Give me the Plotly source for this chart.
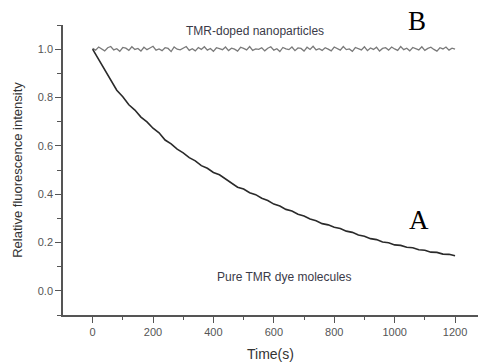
import plotly.graph_objects as go

# --- data ------------------------------------------------------------------
# A: pure TMR dye molecules (photobleaching decay), sampled every 20 s
time_a = list(range(0, 1201, 20))
pure_dye = [
    1.000, 0.957, 0.913, 0.872, 0.830, 0.803, 0.770, 0.748, 0.719, 0.699,
    0.673, 0.654, 0.624, 0.608, 0.586, 0.571, 0.551, 0.538, 0.518, 0.507,
    0.490, 0.480, 0.463, 0.447, 0.429, 0.421, 0.406, 0.398, 0.383, 0.374,
    0.359, 0.351, 0.337, 0.330, 0.317, 0.310, 0.297, 0.290, 0.278, 0.273,
    0.263, 0.258, 0.247, 0.242, 0.231, 0.226, 0.216, 0.212, 0.202, 0.199,
    0.190, 0.188, 0.180, 0.178, 0.170, 0.168, 0.160, 0.159, 0.152, 0.151,
    0.145,
]

# B: TMR-doped nanoparticles (stable), sampled every 10 s
time_b = list(range(0, 1201, 10))
nanoparticles = [
    1.003, 0.996, 1.009, 1.001, 0.993, 1.006, 1.011, 0.997, 1.002, 0.991,
    1.007, 1.004, 0.995, 1.010, 0.999, 1.003, 0.992, 1.008, 0.998, 1.005,
    1.012, 0.996, 1.001, 0.994, 1.006, 1.003, 0.990, 1.009, 1.000, 0.997,
    1.004, 1.011, 0.995, 1.002, 0.993, 1.007, 0.999, 1.010, 0.996, 1.003,
    0.991, 1.006, 1.002, 0.998, 1.009, 0.994, 1.004, 1.000, 0.992, 1.008,
    1.003, 0.997, 1.011, 0.995, 1.001, 0.999, 1.006, 0.993, 1.004, 1.010,
    0.996, 1.002, 0.990, 1.007, 1.001, 0.998, 1.009, 0.994, 1.005, 1.003,
    0.992, 1.008, 0.999, 1.012, 0.997, 1.002, 0.995, 1.006, 1.000, 0.993,
    1.009, 1.004, 0.996, 1.011, 0.998, 1.001, 0.991, 1.007, 1.003, 0.997,
    1.010, 0.994, 1.005, 0.999, 1.008, 0.992, 1.003, 1.006, 0.996, 1.009,
    1.001, 0.995, 1.011, 0.998, 1.004, 0.993, 1.007, 1.002, 0.997, 1.010,
    0.995, 1.003, 1.008, 0.999, 0.992, 1.006, 1.001, 1.009, 0.996, 1.004,
    1.000,
]

x_ticks = [0, 200, 400, 600, 800, 1000, 1200]
y_ticks = [0.0, 0.2, 0.4, 0.6, 0.8, 1.0]

SANS = "Arial, Liberation Sans, sans-serif"
SERIF = "Times New Roman, Liberation Serif, serif"

fig = go.Figure()

fig.add_trace(go.Scatter(
    x=time_b, y=nanoparticles, mode="lines",
    line=dict(color="#7a7a7a", width=1.3),
    name="TMR-doped nanoparticles",
))
fig.add_trace(go.Scatter(
    x=time_a, y=pure_dye, mode="lines",
    line=dict(color="#2a2a2a", width=1.6),
    name="Pure TMR dye molecules",
))

axis_common = dict(
    showgrid=False, zeroline=False, showline=True, automargin=False,
    linecolor="#555555", linewidth=1.5,
    ticks="outside", ticklen=6, tickwidth=1.2, tickcolor="#555555",
    tickfont=dict(family=SANS, size=11, color="#555555"),
)

fig.update_xaxes(
    range=[-98, 1276], tickvals=x_ticks,
    minor=dict(tickvals=[-100, 100, 300, 500, 700, 900, 1100],
               ticks="outside", ticklen=3, tickcolor="#555555"),
    title=dict(text="Time(s)", font=dict(family=SANS, size=14, color="#333333"),
               standoff=12),
    **axis_common,
)
fig.update_yaxes(
    range=[-0.1, 1.1], tickvals=y_ticks, tickformat=".1f",
    minor=dict(tickvals=[-0.1, 0.1, 0.3, 0.5, 0.7, 0.9, 1.1],
               ticks="outside", ticklen=4, tickcolor="#555555"),
    title=dict(text="Relative fluorescence intensity",
               font=dict(family=SANS, size=13, color="#333333"), standoff=12),
    **axis_common,
)

# Series labels and panel letters
fig.add_annotation(x=537, y=1.077, text="TMR-doped nanoparticles", showarrow=False,
                   font=dict(family=SANS, size=12, color="#3a3a48"))
fig.add_annotation(x=635, y=0.056, text="Pure TMR dye molecules", showarrow=False,
                   font=dict(family=SANS, size=12, color="#3a3a48"))
fig.add_annotation(x=1075, xref="x", y=1.015, yref="paper", yanchor="middle",
                   text="B", showarrow=False,
                   font=dict(family=SERIF, size=27, color="black"))
fig.add_annotation(x=1080, y=0.295, text="A", showarrow=False,
                   font=dict(family=SERIF, size=27, color="black"))

fig.update_layout(
    width=478, height=362,
    margin=dict(l=63, r=0, t=25, b=47),
    paper_bgcolor="white", plot_bgcolor="white",
    showlegend=False,
)

# the page's default body margin would shift the figure; remove it
fig.write_html("out.html", config={"displayModeBar": False},
               post_script="document.body.style.margin='0';")
